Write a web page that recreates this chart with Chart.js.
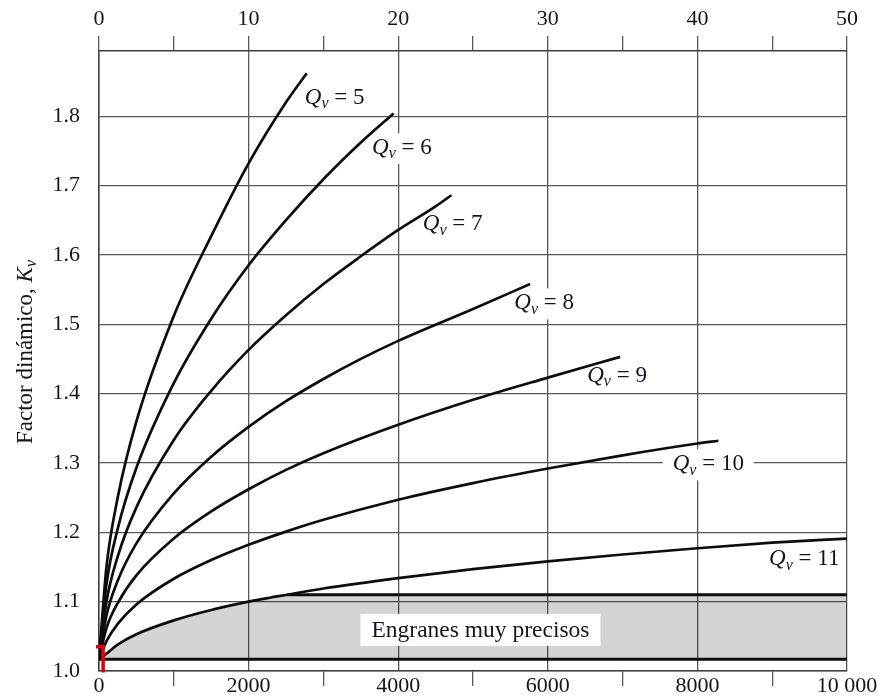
<!DOCTYPE html>
<html lang="es">
<head>
<meta charset="utf-8">
<title>Factor dinámico K_v</title>
<script src="https://cdn.jsdelivr.net/npm/chart.js@4.4.1/dist/chart.umd.min.js"></script>
<style>
  html, body { margin: 0; padding: 0; background: #ffffff; }
  #wrap { width: 883px; height: 698px; position: relative; }
</style>
</head>
<body>
<div id="wrap"><canvas id="kv"></canvas></div>
<script>
// Pitch-line velocity (ft/min) and dynamic factor Kv for each quality number Qv
const speedQ5  = [0, 100, 250, 500, 1000, 1500, 2000, 2500, 2777];
const kvQ5     = [1.017, 1.150, 1.250, 1.360, 1.512, 1.627, 1.732, 1.820, 1.862];

const speedQ6  = [0, 100, 250, 500, 1000, 1500, 2000, 2500, 3000, 3500, 3938];
const kvQ6     = [1.017, 1.125, 1.205, 1.293, 1.415, 1.508, 1.585, 1.650, 1.709, 1.762, 1.804];

const speedQ7  = [0, 100, 250, 500, 1000, 1500, 2000, 2500, 3000, 3500, 4000, 4500, 4711];
const kvQ7     = [1.017, 1.100, 1.165, 1.236, 1.333, 1.404, 1.463, 1.513, 1.558, 1.598, 1.636, 1.670, 1.686];

const speedQ8  = [0, 100, 250, 500, 1000, 1500, 2000, 2500, 3000, 3500, 4000, 5000, 5763];
const kvQ8     = [1.017, 1.080, 1.130, 1.184, 1.256, 1.309, 1.352, 1.389, 1.421, 1.450, 1.476, 1.522, 1.558];

const speedQ9  = [0, 100, 250, 500, 1000, 1500, 2000, 2500, 3000, 4000, 5000, 6000, 6967];
const kvQ9     = [1.017, 1.062, 1.098, 1.138, 1.191, 1.230, 1.262, 1.290, 1.314, 1.355, 1.391, 1.423, 1.453];

const speedQ10 = [0, 100, 250, 500, 1000, 1500, 2000, 2500, 3000, 4000, 5000, 6000, 7000, 8000, 8281];
const kvQ10    = [1.017, 1.043, 1.068, 1.096, 1.133, 1.160, 1.182, 1.201, 1.218, 1.247, 1.271, 1.292, 1.311, 1.328, 1.332];

const speedQ11 = [0, 100, 250, 500, 1000, 1500, 2000, 2300, 3000, 4000, 5000, 6000, 7000, 8000, 9000, 10000];
const kvQ11    = [1.017, 1.025, 1.038, 1.053, 1.073, 1.088, 1.100, 1.106, 1.119, 1.134, 1.147, 1.158, 1.168, 1.177, 1.185, 1.191];

const qualityNumbers = [5, 6, 7, 8, 9, 10, 11];

// "Engranes muy precisos" zone: between these two Kv levels, under the Qv = 11 curve
const precisionFloor = 1.017;
const precisionLimit = 1.11;

// Axis ticks
const speedTicksFtMin  = [0, 2000, 4000, 6000, 8000, 10000];
const speedTickLabels  = ['0', '2000', '4000', '6000', '8000', '10 000'];
const speedTicksMs     = [0, 10, 20, 30, 40, 50];
const speedMsLabels    = ['0', '10', '20', '30', '40', '50'];
const kvTicks          = [1.0, 1.1, 1.2, 1.3, 1.4, 1.5, 1.6, 1.7, 1.8];
const kvTickLabels     = ['1.0', '1.1', '1.2', '1.3', '1.4', '1.5', '1.6', '1.7', '1.8'];

// ---------------------------------------------------------------------------
const FONT   = '"Liberation Serif", "Times New Roman", serif';
const INK    = '#15151f';
const GRID   = '#595959';
const BORDER = '#404040';
const CURVE  = '#0d0d0d';

const speedSeries = [speedQ5, speedQ6, speedQ7, speedQ8, speedQ9, speedQ10, speedQ11];
const kvSeries    = [kvQ5, kvQ6, kvQ7, kvQ8, kvQ9, kvQ10, kvQ11];
const toPoints = (xs, ys) => xs.map((x, i) => ({ x, y: ys[i] }));

// Upper edge of the shaded zone: follow Qv = 11 until it reaches the limit, then stay flat
const bandEdge = [];
let limitStart = null;
for (let i = 0; i < speedQ11.length; i++) {
  if (kvQ11[i] >= precisionLimit) {
    // crossing point between the two neighbouring readings
    const x0 = speedQ11[i - 1], y0 = kvQ11[i - 1], x1 = speedQ11[i], y1 = kvQ11[i];
    limitStart = x0 + (precisionLimit - y0) / (y1 - y0) * (x1 - x0);
    bandEdge.push({ x: limitStart, y: precisionLimit });
    break;
  }
  bandEdge.push({ x: speedQ11[i], y: kvQ11[i] });
}
const speedMax = speedTicksFtMin[speedTicksFtMin.length - 1];
bandEdge.push({ x: speedMax, y: precisionLimit });

const datasets = [
  {
    label: 'zona',
    data: bandEdge,
    borderWidth: 0,
    pointRadius: 0,
    cubicInterpolationMode: 'monotone',
    backgroundColor: 'rgba(0, 0, 14, 0.17)',
    fill: { value: precisionFloor },
    order: 20
  },
  {
    label: 'límite',
    data: [{ x: limitStart, y: precisionLimit }, { x: speedMax, y: precisionLimit }],
    borderColor: CURVE, borderWidth: 3, pointRadius: 0, fill: false, order: 5
  },
  {
    label: 'base',
    data: [{ x: 0, y: precisionFloor }, { x: speedMax, y: precisionFloor }],
    borderColor: CURVE, borderWidth: 3, pointRadius: 0, fill: false, order: 5
  }
];
qualityNumbers.forEach((q, i) => {
  datasets.push({
    label: 'Qv = ' + q,
    data: toPoints(speedSeries[i], kvSeries[i]),
    borderColor: CURVE,
    borderWidth: 2.7,
    pointRadius: 0,
    fill: false,
    cubicInterpolationMode: 'monotone',
    order: 1
  });
});

// Curve tags: anchor (ft/min, Kv) of the left edge / vertical middle of each "Qv = n"
const tagAnchors = [
  { v: 2752, k: 1.826, pad: 4 },
  { v: 3651, k: 1.754, pad: 6 },
  { v: 4329, k: 1.644, pad: 6 },
  { v: 5553, k: 1.530, pad: 6 },
  { v: 6527, k: 1.425, pad: 6 },
  { v: 7670, k: 1.298, pad: 10 },
  { v: 8958, k: 1.161, pad: 6 }
];

function drawTag(ctx, x, yMid, num, padX) {
  const fItal = `italic 23px ${FONT}`;
  const fSub  = `italic 16px ${FONT}`;
  const fMain = `23px ${FONT}`;
  const rest = ' = ' + num;
  ctx.save();
  ctx.textBaseline = 'middle';
  ctx.font = fItal; const wQ = ctx.measureText('Q').width;
  ctx.font = fSub;  const wV = ctx.measureText('v').width;
  ctx.font = fMain; const wR = ctx.measureText(rest).width;
  ctx.fillStyle = '#ffffff';
  ctx.fillRect(x - padX, yMid - 15, wQ + wV + wR + 2 * padX, 31);
  ctx.fillStyle = INK;
  ctx.font = fItal; ctx.fillText('Q', x, yMid);
  ctx.font = fSub;  ctx.fillText('v', x + wQ, yMid + 6);
  ctx.font = fMain; ctx.fillText(rest, x + wQ + wV, yMid);
  ctx.restore();
}

const annotate = {
  id: 'annotate',
  beforeDatasetsDraw(chart) {
    const { ctx, scales: { x, y } } = chart;
    qualityNumbers.forEach((q, i) => {
      const a = tagAnchors[i];
      drawTag(ctx, x.getPixelForValue(a.v), y.getPixelForValue(a.k), String(q), a.pad);
    });
  },
  afterDatasetsDraw(chart) {
    const { ctx, scales: { x, y } } = chart;
    // zone caption in a white box
    const text = 'Engranes muy precisos';
    ctx.save();
    ctx.font = `23.5px ${FONT}`;
    ctx.textAlign = 'center';
    ctx.textBaseline = 'middle';
    const cx = x.getPixelForValue(5100);
    const cy = y.getPixelForValue(1.0593);
    const w = ctx.measureText(text).width + 22;
    ctx.fillStyle = '#ffffff';
    ctx.fillRect(cx - w / 2, cy - 16, w, 32);
    ctx.fillStyle = INK;
    ctx.fillText(text, cx, cy + 1);
    ctx.restore();

    // red bracket at the origin
    ctx.save();
    ctx.strokeStyle = '#e3000f';
    ctx.lineWidth = 3.5;
    ctx.lineCap = 'butt';
    const bx = x.getPixelForValue(55);
    const bl = x.getPixelForValue(-40);
    const bt = y.getPixelForValue(1.035);
    const bb = y.getPixelForValue(0.998);
    ctx.beginPath();
    ctx.moveTo(bl, bt);
    ctx.lineTo(bx, bt);
    ctx.lineTo(bx, bb);
    ctx.stroke();
    ctx.restore();
  },
  afterDraw(chart) {
    const { ctx, chartArea } = chart;
    const parts = [
      { t: 'Factor dinámico, ', f: `23px ${FONT}`, dy: 0 },
      { t: 'K', f: `italic 23px ${FONT}`, dy: 0 },
      { t: 'v', f: `italic 16px ${FONT}`, dy: 6 }
    ];
    ctx.save();
    ctx.translate(chartArea.left - 73, (chartArea.top + chartArea.bottom) / 2 - 9);
    ctx.rotate(-Math.PI / 2);
    ctx.textBaseline = 'middle';
    ctx.fillStyle = INK;
    let total = 0;
    parts.forEach(p => { ctx.font = p.f; p.w = ctx.measureText(p.t).width; total += p.w; });
    let px = -total / 2;
    parts.forEach(p => { ctx.font = p.f; ctx.fillText(p.t, px, p.dy); px += p.w; });
    ctx.restore();
  }
};

const labelFrom = (ticks, labels) => v => {
  const i = ticks.findIndex(t => Math.abs(t - v) < 1e-6);
  return i < 0 ? '' : labels[i];
};
const isMajorFt = v => speedTicksFtMin.some(t => Math.abs(t - v) < 1e-6);
const noPad = s => { s.paddingLeft = 0; s.paddingRight = 0; s.paddingTop = 0; s.paddingBottom = 0; };

new Chart(document.getElementById('kv'), {
  type: 'line',
  data: { datasets },
  options: {
    responsive: true,
    maintainAspectRatio: false,
    animation: false,
    events: [],
    layout: { padding: { left: 0, right: 36, top: 0, bottom: 0 } },
    plugins: { legend: { display: false }, tooltip: { enabled: false } },
    scales: {
      x: {
        type: 'linear',
        position: 'bottom',
        min: 0,
        max: speedMax,
        afterFit: s => { s.height = 27; noPad(s); },
        ticks: {
          stepSize: 1000,
          autoSkip: false,
          maxRotation: 0,
          padding: -12.5,
          color: INK,
          font: { family: FONT, size: 22 },
          callback: labelFrom(speedTicksFtMin, speedTickLabels)
        },
        grid: {
          lineWidth: 1.3,
          tickLength: 15,
          color: c => (c.tick && isMajorFt(c.tick.value)) ? GRID : 'rgba(0,0,0,0)',
          tickColor: c => (c.tick && isMajorFt(c.tick.value)) ? 'rgba(0,0,0,0)' : GRID
        },
        border: { color: BORDER, width: 1.5 }
      },
      xTop: {
        type: 'linear',
        position: 'top',
        min: 0,
        max: 50,
        afterFit: s => { s.height = 51; noPad(s); },
        ticks: {
          stepSize: 5,
          autoSkip: false,
          maxRotation: 0,
          padding: 3.5,
          color: INK,
          font: { family: FONT, size: 22 },
          callback: labelFrom(speedTicksMs, speedMsLabels)
        },
        grid: { drawOnChartArea: false, tickLength: 15, lineWidth: 1.3, color: GRID },
        border: { color: BORDER, width: 1.5 }
      },
      y: {
        type: 'linear',
        min: 1.0,
        max: 1.894,
        afterFit: s => { s.width = 99; noPad(s); },
        ticks: {
          stepSize: 0.1,
          includeBounds: false,
          padding: 19,
          color: INK,
          font: { family: FONT, size: 22 },
          callback: labelFrom(kvTicks, kvTickLabels)
        },
        grid: { drawTicks: false, lineWidth: 1.3, color: GRID },
        border: { color: BORDER, width: 1.5 }
      }
    }
  },
  plugins: [annotate]
});
</script>
</body>
</html>
